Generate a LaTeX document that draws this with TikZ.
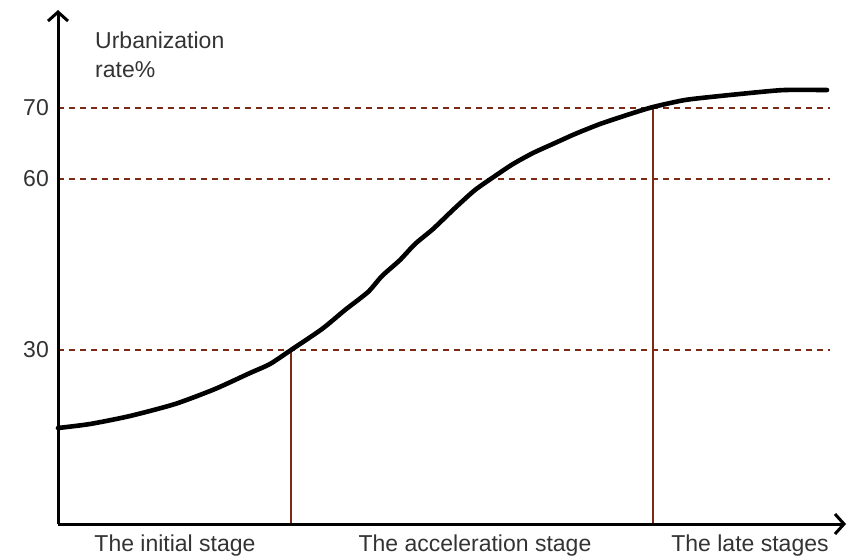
\documentclass[tikz,border=0pt]{standalone}
\usepackage{fontspec}
\setmainfont{Liberation Sans}
\usetikzlibrary{arrows.meta}
\definecolor{guide}{HTML}{7A2A15}
\definecolor{txt}{HTML}{333333}
\begin{document}
\begin{tikzpicture}[x=1pt,y=-1pt,
  axis/.style={line width=3pt,-{Straight Barb[length=9pt,width=20pt]}},
  dashline/.style={guide,line width=2.8pt,dash pattern=on 6pt off 5pt},
  vline/.style={guide,line width=2.2pt},
  curve/.style={line width=4.6pt,line join=round,line cap=round},
  lbl/.style={text=txt,font=\fontsize{23}{26}\selectfont,inner sep=0pt},
]
\useasboundingbox (0,0) rectangle (848,558);
\coordinate (O) at (58,524);
\coordinate (ytop) at (58,10);
\coordinate (xend) at (846,524);
% guide ends
\coordinate (a70) at (58,108); \coordinate (b70) at (830,108);
\coordinate (a60) at (58,179); \coordinate (b60) at (830,179);
\coordinate (a30) at (58,350); \coordinate (b30) at (830,350);
\coordinate (p30) at (291,350); \coordinate (q30) at (291,524);
\coordinate (p70) at (653,108); \coordinate (q70) at (653,524);
\draw[dashline] (a70) -- (b70);
\draw[dashline] (a60) -- (b60);
\draw[dashline] (a30) -- (b30);
\draw[vline] (p30) -- (q30);
\draw[vline] (p70) -- (q70);
\draw[curve] plot[smooth,tension=0.4] coordinates {
(58,428) (90,424) (130,416) (175,404) (215,389) (250,373) (270,364) (291,350)
(322,329) (345,310) (368,292) (382,276) (400,260) (415,244) (433,229) (455,208)
(475,190) (495,176) (513,164) (533,153) (555,143) (575,134) (600,124) (630,114)
(653,107) (685,100) (720,96) (760,92) (785,90) (827,90)};
\draw[axis] (O) -- (ytop);
\draw[axis] (O) -- (xend);
\node[lbl,anchor=base west,align=left] (ylab) at (95,48) {Urbanization};
\node[lbl,anchor=base west] (ylab2) at (95,77) {rate\%};
\node[lbl,anchor=east] (t70) at (49,108) {70};
\node[lbl,anchor=east] (t60) at (49,179) {60};
\node[lbl,anchor=east] (t30) at (49,350) {30};
\node[lbl,anchor=base] (s1) at (175,551) {The initial stage};
\node[lbl,anchor=base] (s2) at (475,551) {The acceleration stage};
\node[lbl,anchor=base] (s3) at (750,551) {The late stages};
\end{tikzpicture}
\end{document}
